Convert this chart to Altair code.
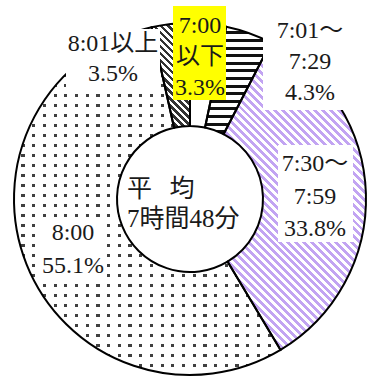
import math
import altair as alt
import pandas as pd

# ---------------- data ----------------
categories = ["7:00以下", "7:01〜7:29", "7:30〜7:59", "8:00", "8:01以上"]
shares = [3.3, 4.3, 33.8, 55.1, 3.5]
label_heads = ["7:00\n以下", "7:01〜\n7:29", "7:30〜\n7:59", "8:00", "8:01以上"]
center_text = "平\u2002\u2009均\n7時間48分"

# ---------------- layout / style ----------------
CX, CY = 190, 199
R_OUT, R_IN = 176, 73
FONT = "Liberation Serif, Noto Sans CJK JP, serif"

# first-line centre (x, y), line height, box (x0, x1, y0, y1), box colour
label_layout = {
    "7:00以下": (200, 26, 31, (173, 226, 6, 100), "#ffff00"),
    "7:01〜7:29": (310, 31, 31, (263, 352, 8, 110), "#ffffff"),
    "7:30〜7:59": (315, 164, 32.5, (278, 353, 145, 242), "#ffffff"),
    "8:00": (73, 233, 33, (40, 107, 217, 279), "#ffffff"),
    "8:01以上": (113, 44, 30, (66, 160, 29, 88), "#ffffff"),
}

df = pd.DataFrame({"cat": categories, "share": shares})
df["end"] = df["share"].cumsum()
df["start"] = df["end"] - df["share"]

theta_scale = alt.Scale(domain=[0, 100], range=[0, 2 * math.pi])


def arc_bbox(p0, p1):
    a0, a1 = p0 / 100 * 2 * math.pi, p1 / 100 * 2 * math.pi
    xs, ys = [], []
    n = 1440
    for i in range(n + 1):
        a = a0 + (a1 - a0) * i / n
        for r in (R_IN, R_OUT):
            xs.append(r * math.sin(a))
            ys.append(-r * math.cos(a))
    return max(xs) - min(xs), max(ys) - min(ys)


def stripe_stops(t_period, on_frac, on_color, off_color):
    stops = []
    n = int(math.ceil(1 / t_period)) + 1
    for k in range(n):
        s = k * t_period
        m = s + (1 - on_frac) * t_period
        e = s + t_period
        for off, col in ((s, off_color), (m, off_color), (m, on_color), (e, on_color)):
            if off <= 1:
                stops.append({"offset": round(off, 6), "color": col})
    return stops


def grad_horizontal_lines(h, period, on_frac, on_color, off_color):
    return {"gradient": "linear", "x1": 0, "y1": 0, "x2": 0, "y2": 1,
            "stops": stripe_stops(period / h, on_frac, on_color, off_color)}


def grad_vertical_lines(w, period, on_frac, on_color, off_color):
    return {"gradient": "linear", "x1": 0, "y1": 0, "x2": 1, "y2": 0,
            "stops": stripe_stops(period / w, on_frac, on_color, off_color)}


def grad_backslash(w, h, period, on_frac, on_color, off_color):
    k = (w + h) / (w * w + h * h)
    return {"gradient": "linear", "x1": 0, "y1": 1, "x2": k * w, "y2": 1 - k * h,
            "stops": stripe_stops(period * math.sqrt(2) / (w + h), on_frac, on_color, off_color)}


bbox = {row.cat: arc_bbox(row.start, row.end) for row in df.itertuples()}

base = alt.Chart(df).encode(
    theta=alt.Theta("start:Q", scale=theta_scale, stack=None),
    theta2="end:Q",
    x=alt.value(CX),
    y=alt.value(CY),
)


def slice_layer(cat, fill):
    return base.transform_filter(alt.datum.cat == cat).mark_arc(
        innerRadius=R_IN, outerRadius=R_OUT, fill=fill, strokeWidth=0
    )


CLEAR = "rgba(255,255,255,0)"
layers = []
# 7:00以下 : plain white
layers.append(slice_layer(categories[0], "#ffffff"))
# 7:01〜7:29 : horizontal black stripes
w, h = bbox[categories[1]]
layers.append(slice_layer(categories[1], grad_horizontal_lines(h, 7.6, 0.4, "#111111", "#ffffff")))
# 7:30〜7:59 : lavender diagonal stripes
w, h = bbox[categories[2]]
layers.append(slice_layer(categories[2], grad_backslash(w, h, 5.6, 0.5, "#c2a4f2", "#ffffff")))
# 8:00 : dot grid (dark base, masked by white rows and columns)
w, h = bbox[categories[3]]
layers.append(slice_layer(categories[3], "#404040"))
layers.append(slice_layer(categories[3], grad_horizontal_lines(h, 10.0, 0.3, CLEAR, "#ffffff")))
layers.append(slice_layer(categories[3], grad_vertical_lines(w, 10.7, 0.3, CLEAR, "#ffffff")))
# 8:01以上 : dark diagonal hatch
w, h = bbox[categories[4]]
layers.append(slice_layer(categories[4], grad_backslash(w, h, 5.0, 0.5, "#333333", "#ffffff")))

# outlines
layers.append(base.mark_arc(innerRadius=R_IN, outerRadius=R_OUT, fillOpacity=0,
                            stroke="#000000", strokeWidth=2))

# label boxes and texts
lab = pd.DataFrame({
    "cat": categories,
    "text": [f"{hd}\n{v:.1f}%" for hd, v in zip(label_heads, shares)],
})
lab["lx"] = [label_layout[c][0] for c in categories]
lab["ly"] = [label_layout[c][1] for c in categories]
lab["bx0"] = [label_layout[c][3][0] for c in categories]
lab["bx1"] = [label_layout[c][3][1] for c in categories]
lab["by0"] = [label_layout[c][3][2] for c in categories]
lab["by1"] = [label_layout[c][3][3] for c in categories]
lab["bcol"] = [label_layout[c][4] for c in categories]

boxes = alt.Chart(lab).mark_rect(strokeWidth=0).encode(
    x=alt.X("bx0:Q", scale=None, axis=None),
    x2="bx1:Q",
    y=alt.Y("by0:Q", scale=None, axis=None),
    y2="by1:Q",
    fill=alt.Fill("bcol:N", scale=None),
)
layers.append(boxes)

for c in categories:
    lx, ly, lh, _, _ = label_layout[c]
    t = alt.Chart(lab).transform_filter(alt.datum.cat == c).mark_text(
        font=FONT, fontSize=24, lineBreak="\n", lineHeight=lh, align="center",
        baseline="middle", color="#1a1a1a"
    ).encode(
        x=alt.X("lx:Q", scale=None, axis=None),
        y=alt.Y("ly:Q", scale=None, axis=None),
        text="text:N",
    )
    layers.append(t)

ctr = alt.Chart(pd.DataFrame({"t": [center_text]})).mark_text(
    font=FONT, fontSize=25, lineBreak="\n", lineHeight=30, align="left",
    baseline="middle", color="#1a1a1a"
).encode(x=alt.value(127), y=alt.value(189), text="t:N")
layers.append(ctr)

chart = alt.layer(*layers).properties(
    width=369, height=380, padding=0,
    autosize=alt.AutoSizeParams(type="none"),
).configure_view(stroke=None)

chart.save("out.html", embed_options={"renderer": "svg", "actions": False})
